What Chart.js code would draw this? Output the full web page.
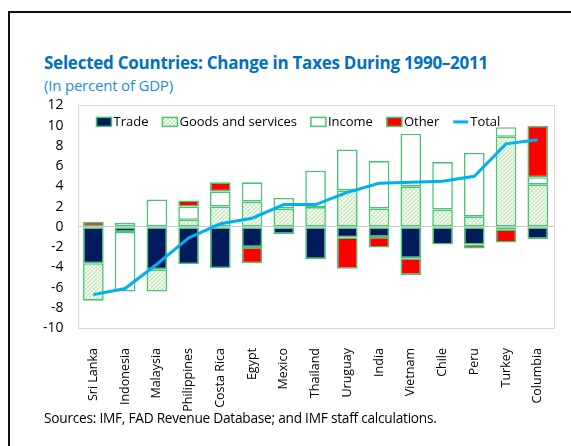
<!DOCTYPE html>
<html>
<head>
<meta charset="utf-8">
<script src="https://cdn.jsdelivr.net/npm/chart.js@4.4.1/dist/chart.umd.min.js"></script>
<style>
  body { margin: 0; background: #fff; font-family: "Open Sans", sans-serif; }
  .frame { position: absolute; left: 8px; top: 11px; width: 700px; height: 600px; border: 2px solid #111; }
  .title { position: absolute; left: 44px; top: 51px; font-size: 17px; font-weight: bold; color: #0070C0; letter-spacing: -0.25px; white-space: nowrap; }
  .sub { position: absolute; left: 44px; top: 75px; font-size: 15px; color: #1b8de6; letter-spacing: -0.2px; white-space: nowrap; }
  .src { position: absolute; left: 44px; top: 408px; font-size: 13.7px; color: #000; letter-spacing: -0.25px; white-space: nowrap; }
  #chart { position: absolute; left: 40px; top: 83px; }
</style>
</head>
<body>
<div class="frame"></div>
<div class="title">Selected Countries: Change in Taxes During 1990–2011</div>
<div class="sub">(In percent of GDP)</div>
<canvas id="chart" width="525" height="335"></canvas>
<div class="src">Sources: IMF, FAD Revenue Database; and IMF staff calculations.</div>
<script>
// values (percent of GDP)
const countries = ["Sri Lanka", "Indonesia", "Malaysia", "Philippines", "Costa Rica", "Egypt", "Mexico",
  "Thailand", "Uruguay", "India", "Vietnam", "Chile", "Peru", "Turkey", "Columbia"];
const trade  = [-3.6, -0.5, -4.2, -3.7, -4.1, -2.0, -0.7, -3.2, -1.05, -1.0, -3.1, -1.75, -1.75, -0.25, -1.2];
const goods  = [-3.7, 0.4, -2.2, 0.7, 2.0, 2.5, 1.8, 1.95, 3.6, 1.8, 4.0, 1.7, 1.0, 8.9, 4.2];
const income = [0, -5.9, 2.7, 1.3, 1.5, 1.9, 1.05, 3.6, 4.05, 4.7, 5.2, 4.7, 6.3, 0.95, 0.7];
const other  = [0.5, 0, 0, 0.6, 0.9, -1.6, 0, 0, -3.1, -1.05, -1.65, 0, -0.4, -1.3, 5.1];
const total  = [-6.7, -6.1, -3.7, -1.1, 0.3, 0.85, 2.2, 2.2, 3.4, 4.3, 4.4, 4.5, 5.0, 8.2, 8.6];

const green = "#45c575";

// fine hatch fill for goods and services
function hatch() {
  const c = document.createElement("canvas");
  c.width = 4; c.height = 4;
  const g = c.getContext("2d");
  g.fillStyle = "#f3faef";
  g.fillRect(0, 0, 4, 4);
  g.fillStyle = "#bfe3b0";
  for (let i = 0; i < 4; i++) g.fillRect(i, 3 - i, 1, 1);
  g.fillStyle = "#dcf0d3";
  for (let i = 0; i < 4; i++) g.fillRect(i, i, 1, 1);
  return g.createPattern(c, "repeat");
}
const goodsFill = hatch();

// light grey frame round the plot area
const plotBox = {
  id: "plotBox",
  beforeDatasetsDraw(chart) {
    const a = chart.chartArea, ctx = chart.ctx;
    ctx.save();
    ctx.strokeStyle = "#d9d9d9";
    ctx.lineWidth = 1;
    ctx.strokeRect(Math.round(a.left) + 0.5, Math.round(a.top) + 0.5, Math.round(a.width), Math.round(a.height));
    ctx.restore();
  }
};

// legend in one row inside the plot, Excel style
const rowLegend = {
  id: "rowLegend",
  afterDraw(chart) {
    const ctx = chart.ctx, a = chart.chartArea;
    let x = a.left + 19;
    const yc = a.top + 16.5;
    ctx.save();
    ctx.font = "13px 'Open Sans'";
    ctx.textBaseline = "middle";
    chart.data.datasets.forEach(ds => {
      if (ds.type === "line") {
        ctx.strokeStyle = ds.borderColor;
        ctx.lineWidth = 3;
        ctx.beginPath();
        ctx.moveTo(x, yc); ctx.lineTo(x + 15, yc);
        ctx.stroke();
      } else {
        ctx.fillStyle = ds.backgroundColor;
        ctx.fillRect(x, yc - 4.5, 15, 9);
        ctx.strokeStyle = green;
        ctx.lineWidth = 1.5;
        ctx.strokeRect(x, yc - 4.5, 15, 9);
      }
      ctx.fillStyle = "#000";
      ctx.fillText(ds.label, x + 17, yc);
      x += 17 + ctx.measureText(ds.label).width + 14;
    });
    ctx.restore();
  }
};

const barCommon = { borderColor: green, borderWidth: 1.6, barPercentage: 0.65, categoryPercentage: 1, order: 1, borderSkipped: false };

new Chart(document.getElementById("chart"), {
  type: "bar",
  data: {
    labels: countries,
    datasets: [
      { label: "Trade", data: trade, backgroundColor: "#001a5c", ...barCommon },
      { label: "Goods and services", data: goods, backgroundColor: goodsFill, ...barCommon },
      { label: "Income", data: income, backgroundColor: "#ffffff", ...barCommon },
      { label: "Other", data: other, backgroundColor: "#ff0000", ...barCommon },
      { type: "line", label: "Total", data: total, borderColor: "#00b0f0", backgroundColor: "#00b0f0",
        borderWidth: 3, pointRadius: 0, tension: 0, order: 0, stack: "total" }
    ]
  },
  options: {
    responsive: false,
    animation: false,
    layout: { padding: { top: 0, right: 7, left: 0, bottom: 0 } },
    plugins: {
      legend: { display: false },
      tooltip: { enabled: false }
    },
    scales: {
      x: {
        stacked: true,
        grid: { display: false },
        border: { display: false },
        ticks: { autoSkip: false, maxRotation: 90, minRotation: 90, padding: 12, color: "#000",
          font: { family: "Open Sans", size: 12.5 } },
        afterFit(s) { s.height = 90; }
      },
      y: {
        stacked: true,
        min: -10, max: 12,
        grid: { drawTicks: false, color: c => c.tick.value === 0 ? "#c8c8c8" : "transparent" },
        border: { display: false },
        ticks: { stepSize: 2, maxTicksLimit: 20, autoSkip: false, padding: 14, color: "#000",
          font: { family: "Open Sans", size: 14 } },
        afterFit(s) { s.width = 37.5; }
      }
    }
  },
  plugins: [plotBox, rowLegend]
});
</script>
</body>
</html>
